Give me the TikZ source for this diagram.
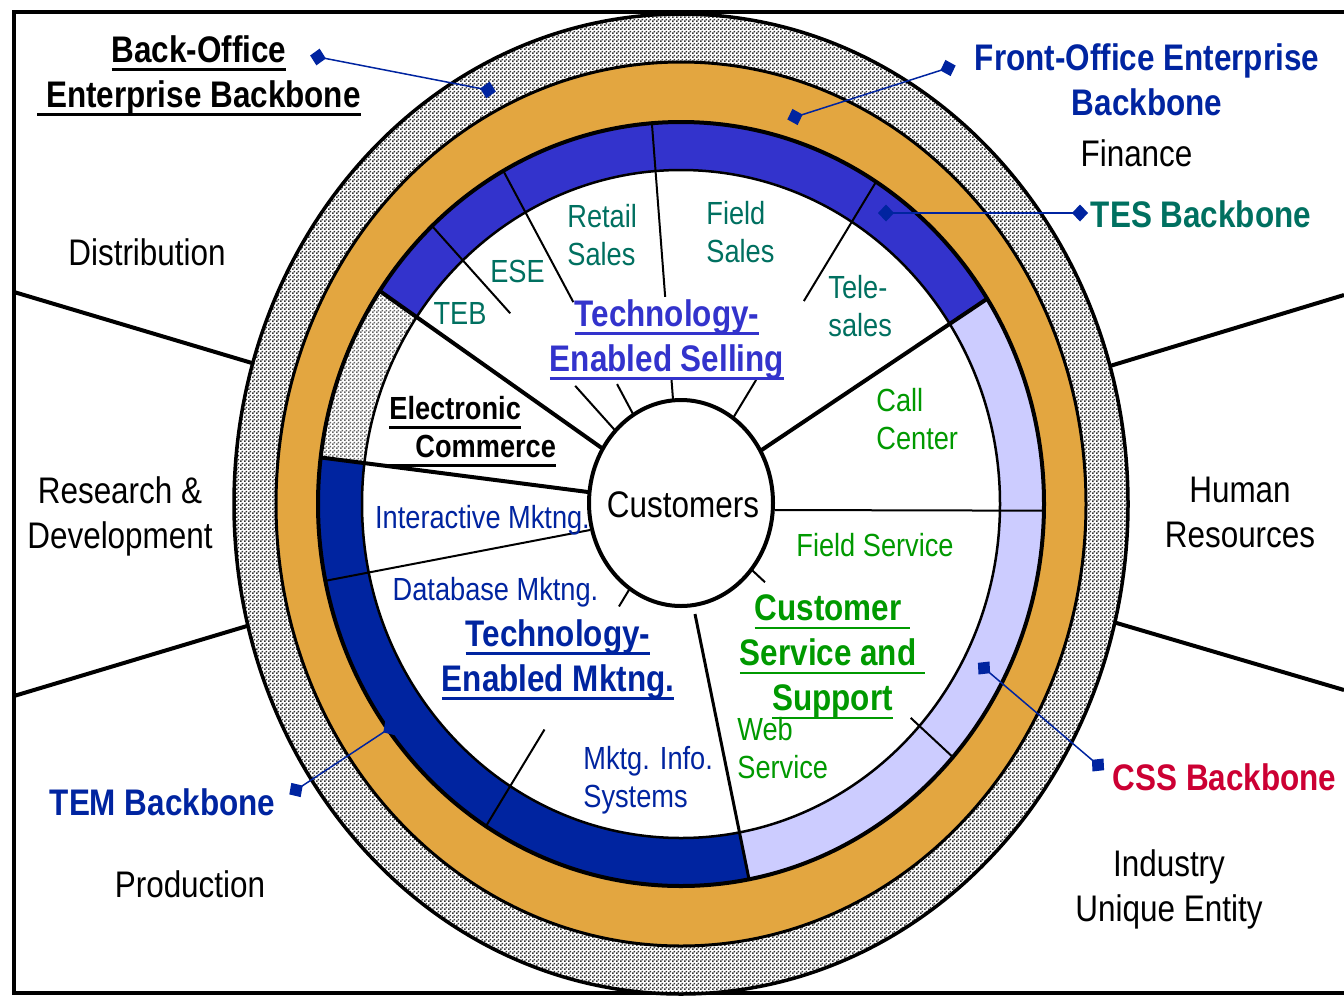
\documentclass[tikz,border=0pt]{standalone}
\usepackage{fontspec}
\setmainfont{Liberation Sans}[FakeStretch=0.85]
\usetikzlibrary{arrows.meta,patterns.meta}
\definecolor{bandorange}{HTML}{E3A640}
\definecolor{tesblue}{HTML}{3333CC}
\definecolor{temblue}{HTML}{0024A0}
\definecolor{csslav}{HTML}{CCCCFF}
\definecolor{tesgreen}{HTML}{007060}
\definecolor{cssgreen}{HTML}{009900}
\definecolor{cssred}{HTML}{CC0033}

\newcommand\sidetxt{\fontsize{18.5}{22.5}\selectfont}
\newcommand\segtxt{\fontsize{16}{19}\selectfont}
\newcommand\undl[1]{\setbox0\hbox{#1}\rlap{\rule[-4.4pt]{\wd0}{1.4pt}}\box0}

\tikzdeclarepattern{
  name=speckle,
  type=uncolored,
  bottom left={(0pt,0pt)},
  top right={(2pt,2pt)},
  tile size={(2pt,2pt)},
  code={
    \fill (0pt,0pt) rectangle (1pt,1pt);
    \fill (1pt,1pt) rectangle (2pt,2pt);
  }
}

\begin{document}
\begin{tikzpicture}[x=0.5pt,y=-0.5pt,
  side/.style={inner sep=0pt,align=center,font=\sidetxt},
  head/.style={side,font=\sidetxt\bfseries},
  seg/.style={inner sep=0pt,align=left,font=\segtxt},
  spoke/.style={line width=1pt},
  divider/.style={line width=2pt},
  callout/.style={draw=temblue,line width=0.75pt,
    arrows={Diamond[length=8pt,width=8.5pt]-Diamond[length=8pt,width=8.5pt]},
    shorten <=-4pt,shorten >=-4pt}
]
\useasboundingbox (0,0) rectangle (1344,997);
\draw[divider] (1344,12) -- (14,12) -- (14,993) -- (1344,993);
\draw[divider] (14,292) -- (262,366);
\draw[divider] (14,696) -- (257,623);
\draw[divider] (1344,295) -- (1100,369);
\draw[divider] (1344,690) -- (1103,619);

\begin{scope}[shift={(681,504)},yscale=-1]
  \draw[line width=1.75pt,preaction={fill=white},pattern=speckle,pattern color=black!80]
    (0,0) ellipse [x radius=447,y radius=490];
  \draw[line width=1.5pt,fill=bandorange] (0,0) ellipse [x radius=405,y radius=442];
  \fill[tesblue] (0,0) -- (32.5:363 and 382)
    arc[start angle=32.5,end angle=146.1,x radius=363,y radius=382] -- cycle;
  \path[preaction={fill=white},pattern=speckle,pattern color=black!60] (0,0) -- (146.1:363 and 382)
    arc[start angle=146.1,end angle=173,x radius=363,y radius=382] -- cycle;
  \fill[temblue] (0,0) -- (173:363 and 382)
    arc[start angle=173,end angle=280.8,x radius=363,y radius=382] -- cycle;
  \fill[csslav] (0,0) -- (280.8:363 and 382)
    arc[start angle=280.8,end angle=392.5,x radius=363,y radius=382] -- cycle;
  \fill[white] (0,0) ellipse [x radius=319,y radius=334];
  \foreach \a in {32.5,146.1,173}
    \draw[spoke,line width=2pt] (\a:60 and 63) -- (\a:363 and 382);
  \draw[spoke,line width=1.5pt] (14,-110) -- (280.8:363 and 382);
  \draw[spoke] (94,-6) -- (-1:363 and 382);
  \draw[spoke] (-91,-26) -- (191.6:363 and 382);
  \foreach \a/\p/\q in {133.3/0.425/0.686,119.3/0.36/0.606,94.6/0.326/0.544,
                        57.5/0.385/0.63,237.5/0.318/0.70,318.5/0.309/0.845}{
    \draw[spoke] ({0.22*363*cos(\a)},{0.22*382*sin(\a)}) -- ({\p*363*cos(\a)},{\p*382*sin(\a)});
    \draw[spoke] ({\q*363*cos(\a)},{\q*382*sin(\a)}) -- (\a:363 and 382);
  }
  \draw[line width=1.25pt] (0,0) ellipse [x radius=319,y radius=334];
  \draw[line width=2pt] (0,0) ellipse [x radius=363,y radius=382];
  \draw[line width=2pt,fill=white] (0,1) ellipse [x radius=92,y radius=103];
\end{scope}

\node[side] (cust) at (683,505) {Customers};

\node[head] (bo) at (199,75.5) {\undl{Back-Office}\\\undl{\ Enterprise Backbone}};
\node[side] (dist) at (147,252.5) {Distribution};
\node[side] (rnd) at (120,516) {Research \&\\Development};
\node[head,text=temblue] (temb) at (162.5,802.5) {TEM Backbone};
\node[side] (prod) at (190,884.5) {Production};
\node[head,text=temblue] (fob) at (1147,80) {Front-Office Enterprise\\Backbone};
\node[side] (fin) at (1136.5,153) {Finance};
\node[head,text=tesgreen] (tesb) at (1201,214.5) {TES Backbone};
\node[side] (hr) at (1240,512.5) {Human\\Resources};
\node[head,text=cssred] (cssb) at (1224.5,777.5) {CSS Backbone};
\node[side] (iue) at (1169,889) {Industry\\Unique Entity};

\node[seg,text=tesgreen,anchor=west] (retail) at (567,235.5) {Retail\\Sales};
\node[seg,text=tesgreen,anchor=west] (fsales) at (706,232.5) {Field\\Sales};
\node[seg,text=tesgreen] (ese) at (517.5,271) {ESE};
\node[seg,text=tesgreen] (teb) at (460,313) {TEB};
\node[seg,text=tesgreen,anchor=west] (tele) at (828,306.5) {Tele-\\sales};
\node[head,text=tesblue] (tesel) at (667,339.5) {\undl{Technology-}\\\undl{Enabled Selling}};
\node[seg,font=\segtxt\bfseries,anchor=west] (ecom) at (389,431.5)
  {\undl{Electronic}\\\undl{\hspace{13pt}Commerce}};
\node[seg,text=cssgreen,anchor=west] (call) at (876,419) {Call\\Center};
\node[seg,text=temblue] (imk) at (482.5,520) {Interactive Mktng.};
\node[seg,text=cssgreen] (fserv) at (875,545.5) {Field Service};
\node[seg,text=temblue] (dbm) at (495.5,592.5) {Database Mktng.};
\node[head,text=temblue] (temk) at (558,659.5) {\undl{Technology-}\\\undl{Enabled Mktng.}};
\node[head,text=cssgreen] (csup) at (832.5,657)
  {\undl{Customer }\\\undl{Service and }\\\undl{Support}};
\node[seg,text=cssgreen,anchor=west] (web) at (737,748) {Web\\Service};
\node[seg,text=temblue,anchor=west] (mis) at (583,780) {Mktg. Info.\\Systems};

\coordinate (bo-a) at (318,57);
\coordinate (bo-b) at (488,90);
\coordinate (fo-a) at (948,68);
\coordinate (fo-b) at (795,117);
\coordinate (tes-a) at (1080,213);
\coordinate (tes-b) at (886,213);
\coordinate (css-a) at (1098,765);
\coordinate (css-b) at (984,668);
\coordinate (tem-a) at (296,790);
\coordinate (tem-b) at (390,728);
\draw[callout] (bo-a) -- (bo-b);
\draw[callout] (fo-a) -- (fo-b);
\draw[callout] (tes-a) -- (tes-b);
\draw[callout] (css-a) -- (css-b);
\draw[callout] (tem-a) -- (tem-b);
\end{tikzpicture}
\end{document}
